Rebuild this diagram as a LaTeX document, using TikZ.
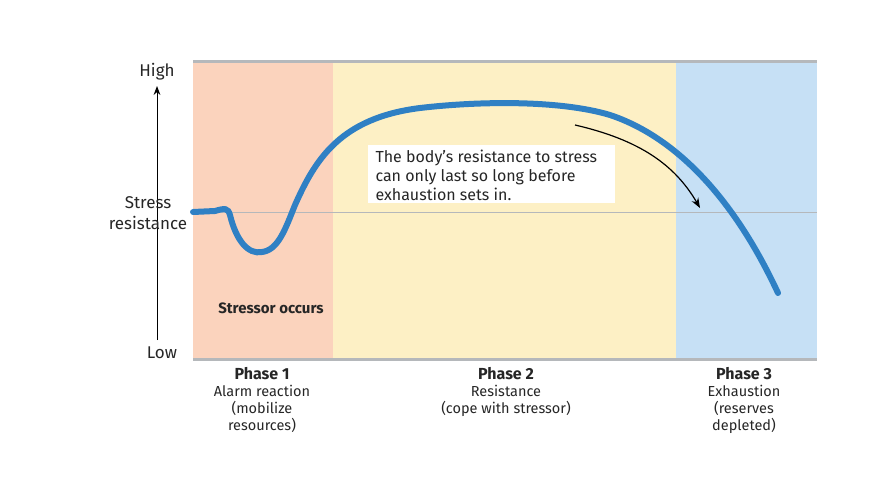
\documentclass[tikz,border=0pt]{standalone}
\usepackage{fontspec}
\setmainfont{Fira Sans}
\usetikzlibrary{arrows.meta}
\definecolor{pinkbg}{HTML}{FBD3BD}
\definecolor{yelbg}{HTML}{FDF0C5}
\definecolor{bluebg}{HTML}{C6E0F5}
\definecolor{curve}{HTML}{2F80C4}
\definecolor{grayline}{HTML}{B5B8BB}
\tikzset{lbl/.style={font=\fontsize{15}{17}\selectfont,align=center,text=black!85}}
\begin{document}
\begin{tikzpicture}[x=1pt,y=-1pt]
\useasboundingbox (0,0) rectangle (880,495);
\fill[pinkbg] (193,63) rectangle (333,358);
\fill[yelbg] (333,63) rectangle (676,358);
\fill[bluebg] (676,63) rectangle (817,358);
\draw[grayline,line width=3pt] (193,62) -- (817,62);
\draw[grayline,line width=3pt] (193,359) -- (817,359);
\draw[grayline,line width=0.8pt] (193,212) -- (817,212);
\coordinate (a0) at (157,340); \coordinate (a1) at (157,86);
\draw[-{Stealth[length=9pt]},line width=1pt] (a0) -- (a1);
\node[lbl,font=\fontsize{17}{19}\selectfont] (hi) at (157,72) {High};
\node[lbl,font=\fontsize{17}{19}\selectfont] (lo) at (162,353) {Low};
\node[lbl,font=\fontsize{17}{21}\selectfont] (sr) at (148,213) {Stress\\resistance};
\draw[curve,line width=6pt,line cap=round] (193,212) -- (215,211) .. controls (225,208) and (228,208) .. (230,215)
 .. controls (236,240) and (248,255) .. (262,252)
 .. controls (278,250) and (285,230) .. (295,205)
 .. controls (315,160) and (340,118) .. (420,108)
 .. controls (480,101) and (560,100) .. (610,115)
 .. controls (670,135) and (730,190) .. (778,293);
\fill[white] (368,145) rectangle (615,203);
\node[lbl,anchor=north west,align=left,font=\fontsize{16}{19}\selectfont] (txt) at (372,146) {The body’s resistance to stress\\can only last so long before\\exhaustion sets in.};
\coordinate (b0) at (575,125); \coordinate (b1) at (700,208);
\draw[-{Stealth[length=10pt]},line width=1.2pt] (b0) .. controls (640,140) and (675,165) .. (b1);
\node[lbl,font=\bfseries\fontsize{15}{17}\selectfont] (so) at (271,308) {Stressor occurs};
\node[lbl,anchor=north,font=\fontsize{14.5}{17}\selectfont] (p1) at (262,364) {\textbf{\fontsize{16}{17}\selectfont Phase 1}\\Alarm reaction\\(mobilize\\resources)};
\node[lbl,anchor=north,font=\fontsize{14.5}{17}\selectfont] (p2) at (506,364) {\textbf{\fontsize{16}{17}\selectfont Phase 2}\\Resistance\\(cope with stressor)};
\node[lbl,anchor=north,font=\fontsize{14.5}{17}\selectfont] (p3) at (744,364) {\textbf{\fontsize{16}{17}\selectfont Phase 3}\\Exhaustion\\(reserves\\depleted)};
\end{tikzpicture}
\end{document}
